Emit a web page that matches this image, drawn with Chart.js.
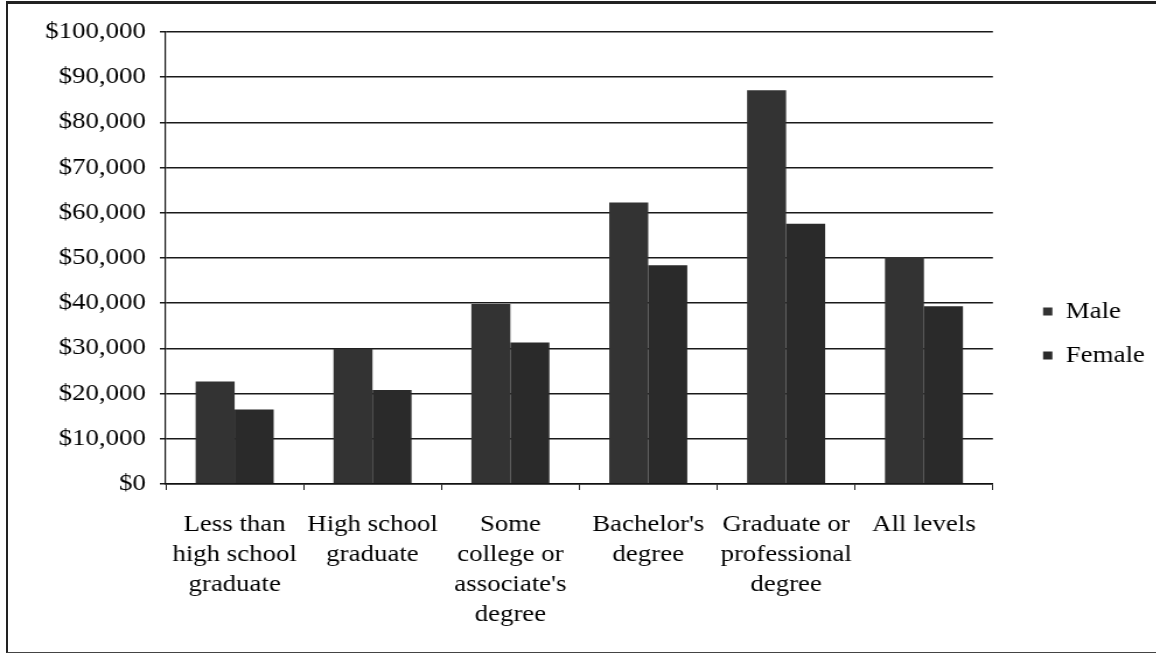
<!DOCTYPE html>
<html>
<head>
<meta charset="utf-8">
<script src="https://cdn.jsdelivr.net/npm/chart.js@4.4.1/dist/chart.umd.min.js"></script>
<style>
  html, body { margin: 0; padding: 0; background: #fff; overflow: hidden; }
  #frame { position: absolute; left: 6px; top: 1px; width: 1150px; height: 652px;
           border-left: 2px solid #222; border-top: 3px solid #222; border-bottom: 1px solid #444; box-sizing: border-box; }
  #wrap { position: absolute; left: 0; top: 0; width: 991px; height: 657px;
          transform: scaleX(1.167); transform-origin: 0 0; }
</style>
</head>
<body>
<div id="frame"></div>
<div id="wrap"><canvas id="c" width="991" height="657"></canvas></div>
<script>
const categories = [
  ["Less than", "high school", "graduate"],
  ["High school", "graduate"],
  ["Some", "college or", "associate's", "degree"],
  ["Bachelor's", "degree"],
  ["Graduate or", "professional", "degree"],
  ["All levels"]
];
const maleValues   = [22700, 29900, 39800, 62300, 87100, 50200];
const femaleValues = [16500, 20800, 31300, 48400, 57600, 39300];
const yTicks = [0, 10000, 20000, 30000, 40000, 50000, 60000, 70000, 80000, 90000, 100000];

const FONT = "'Liberation Serif', 'Times New Roman', serif";

new Chart(document.getElementById('c'), {
  type: 'bar',
  data: {
    labels: categories,
    datasets: [
      { label: 'Male', data: maleValues, backgroundColor: '#333333', borderWidth: 0 },
      { label: 'Female', data: femaleValues, backgroundColor: '#2a2a2a', borderWidth: 0 }
    ]
  },
  options: {
    responsive: false,
    animation: false,
    devicePixelRatio: 1,
    layout: { padding: { left: 0, top: 32, bottom: 22, right: 0 } },
    datasets: { bar: { categoryPercentage: 0.566, barPercentage: 1.0 } },
    plugins: {
      tooltip: { enabled: false },
      legend: {
        position: 'right',
        labels: {
          font: { family: FONT, size: 23 },
          color: '#000',
          boxWidth: 8,
          boxHeight: 8,
          padding: 21
        }
      }
    },
    scales: {
      x: {
        offset: true,
        grid: { display: true, drawOnChartArea: false, drawTicks: true, tickLength: 6, offset: true, color: '#222', lineWidth: 1 },
        border: { display: true, color: '#111', width: 1.5 },
        ticks: {
          font: { family: FONT, size: 23, lineHeight: 30 / 23 },
          color: '#000',
          padding: 20,
          maxRotation: 0,
          autoSkip: false
        },
        afterFit(s) { s.height = 151; }
      },
      y: {
        min: 0, max: 100000,
        afterBuildTicks(s) { s.ticks = yTicks.map(v => ({ value: v })); },
        grid: { color: '#1a1a1a', lineWidth: 1.5, drawTicks: true, tickLength: 5 },
        border: { display: true, color: '#111', width: 1.2 },
        ticks: {
          font: { family: FONT, size: 23 },
          color: '#000',
          padding: 12,
          callback: v => '$' + v.toLocaleString('en-US')
        },
        afterFit(s) { s.width = 142; }
      },
      gap: {
        type: 'linear', position: 'right', display: true,
        grid: { display: false }, border: { display: false }, ticks: { display: false },
        afterFit(s) { s.width = 22; }
      }
    }
  }
});
</script>
</body>
</html>
